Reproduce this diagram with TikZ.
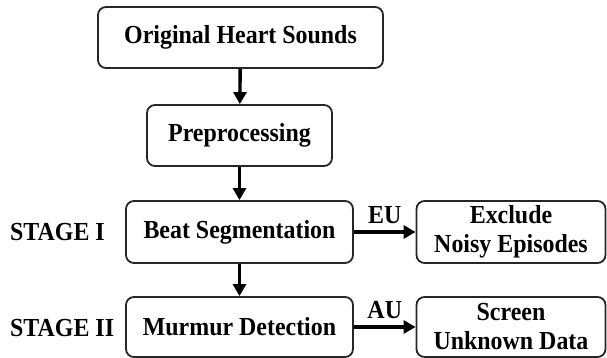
\documentclass[tikz,border=0pt]{standalone}
\usepackage{fontspec}
\setmainfont{Liberation Serif}[FakeStretch=0.92]
\usetikzlibrary{arrows.meta}
\begin{document}
\begin{tikzpicture}[x=1pt,y=-1pt,
  box/.style={draw=black!85, line width=1.8pt, rounded corners=8pt, align=center,
    inner sep=0pt, font=\fontsize{26}{29}\selectfont\bfseries},
  lbl/.style={inner sep=0pt, font=\fontsize{26}{29}\selectfont\bfseries},
  flow/.style={line width=3.4pt, -{Triangle[length=12pt,width=13pt]}}]
\useasboundingbox (0,0) rectangle (607,358);
% main column
\node[box, minimum width=285pt, minimum height=61pt] (orig) at (240.5,37.5) {Original Heart Sounds};
\node[box, minimum width=185pt, minimum height=61pt] (pre) at (239.5,135.5) {Preprocessing};
\node[box, minimum width=227pt, minimum height=62pt] (beat) at (239.5,232) {Beat Segmentation};
\node[box, minimum width=227pt, minimum height=60pt] (mur) at (239.5,327) {Murmur Detection};
% outcome boxes
\node[box, minimum width=189pt, minimum height=62pt] (excl) at (511,232) {Exclude\\Noisy Episodes};
\node[box, minimum width=189pt, minimum height=60pt] (scr) at (511,327) {Screen\\Unknown Data};
% stage labels
\node[lbl, anchor=west] (s1) at (10,232) {STAGE I};
\node[lbl, anchor=west] (s2) at (10,328) {STAGE II};
% connectors
\draw[flow] (orig) -- (pre);
\draw[flow] (pre) -- (beat);
\draw[flow] (beat) -- (mur);
\draw[flow] (beat) -- node[lbl, above=7pt] {EU} (excl);
\draw[flow] (mur) -- node[lbl, above=7pt] {AU} (scr);
\end{tikzpicture}
\end{document}
